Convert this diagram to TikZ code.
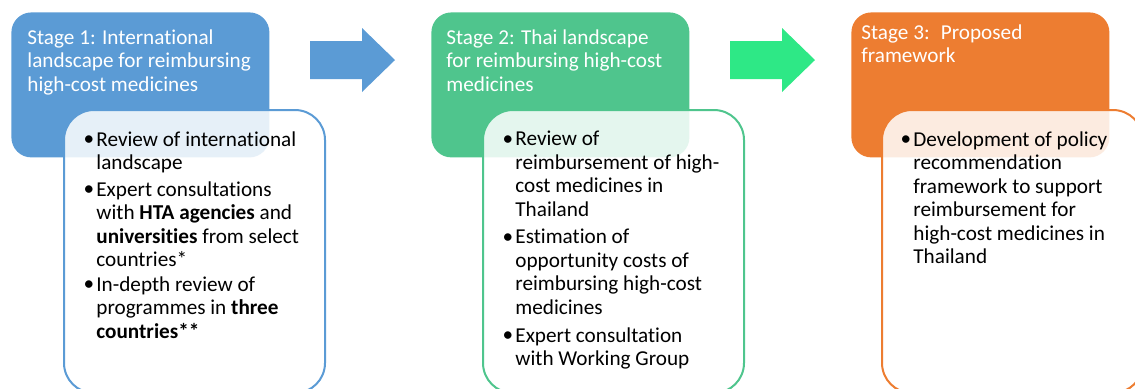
\documentclass[tikz,border=0pt]{standalone}
\usepackage{fontspec}
\setmainfont[Ligatures=NoCommon]{Carlito}
\definecolor{stageBlue}{HTML}{5B9BD5}
\definecolor{stageGreen}{HTML}{4FC58D}
\definecolor{stageOrange}{HTML}{ED7D31}
\definecolor{arrowBlue}{HTML}{5B9BD5}
\definecolor{arrowGreen}{HTML}{2EE886}
\begin{document}
\begin{tikzpicture}
[x=0.5pt,y=-0.5pt,%
  headDecorate/.style={anchor=north west,inner sep=0pt,rounded corners=10pt,
    minimum width=129pt,minimum height=72.5pt},%
  detailDecorate/.style={anchor=north west,inner sep=0pt,rounded corners=15pt,
    minimum width=130.5pt,minimum height=141.5pt,line width=1pt,
    fill=white,fill opacity=0.85},%
  headText/.style={anchor=north west,inner sep=0pt,align=left,text=white,
    font=\fontsize{10.6}{11.75}\selectfont,execute at begin node={\rule{0pt}{8pt}}},%
  itemText/.style={anchor=north west,inner sep=0pt,align=left,
    font=\fontsize{10.6}{11.75}\selectfont,execute at begin node={\rule{0pt}{8pt}}},%
  dotText/.style={anchor=base,inner sep=0pt,font=\fontsize{10.6}{11.75}\selectfont}]
\useasboundingbox (0,0) rectangle (1135,388);
\clip (0,0) rectangle (1135,388);
%% stage boxes
\foreach \stagename/\x/\dx/\colour in {
  1/11/63/stageBlue, 2/431/482/stageGreen, 3/851/881/stageOrange}
{
  \node (stage\stagename) at (\x,12) [headDecorate,fill=\colour] {};
  \node (detail\stagename) at (\dx,109) [detailDecorate,draw=\colour] {};
}
%% stage titles (16 = first line height)
\node (title1) at (27,45-16) [headText] {Stage 1: International\\landscape for reimbursing\\high-cost medicines};
\node (title2) at (446,45-16) [headText] {Stage 2: Thai landscape\\for reimbursing high-cost\\medicines};
\node (title3) at (861,40-16) [headText] {Stage 3:~ Proposed\\framework};
%% block arrows
\fill[arrowBlue] (310,41) -- (362,41) -- (362,28) -- (395,60) -- (362,92) -- (362,79) -- (310,79) -- cycle;
\fill[arrowGreen] (730,41) -- (782,41) -- (782,28) -- (815,60) -- (782,92) -- (782,79) -- (730,79) -- cycle;
%% bullet items
\foreach \itemname/\tx/\y/\content in {
  a/96/147/{Review of international\\landscape},
  b/96/197/{Expert consultations\\with \textbf{HTA agencies} and\\\textbf{universities} from select\\countries*},
  c/96/292/{In-depth review of\\programmes in \textbf{three}\\\textbf{countries**}},
  d/515/147/{Review of\\reimbursement of high-\\cost medicines in\\Thailand},
  e/515/245/{Estimation of\\opportunity costs of\\reimbursing high-cost\\medicines},
  f/515/343/{Expert consultation\\with Working Group},
  g/913/147/{Development of policy\\recommendation\\framework to support\\reimbursement for\\high-cost medicines in\\Thailand}}
{
  \node (dot\itemname) at (\tx-7,\y-2) [dotText] {\textbullet};
  \node (item\itemname) at (\tx,\y-16) [itemText] {\content};
}
\end{tikzpicture}
\end{document}
